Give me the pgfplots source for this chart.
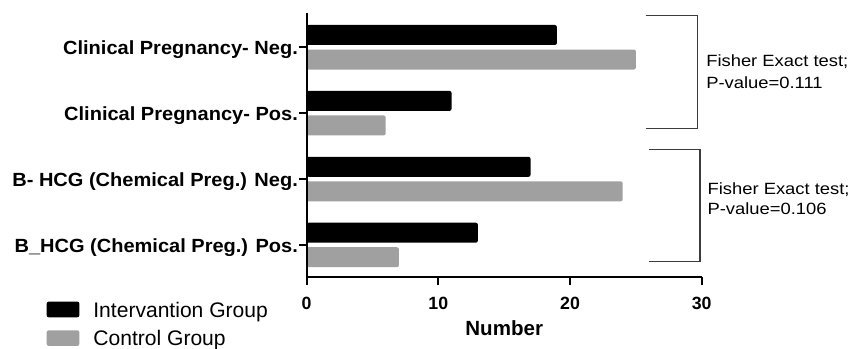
\documentclass[border=0pt]{standalone}
\usepackage{fontspec}
\setmainfont{Liberation Sans}
\newfontfamily\fisherfont{Liberation Sans}[FakeStretch=1.13]
\newfontfamily\labfont{Liberation Sans}[FakeStretch=1.05]
\usepackage{pgfplots}
\pgfplotsset{compat=1.18}
\definecolor{ctrl}{RGB}{160,160,160}
\definecolor{brk}{RGB}{60,60,60}
\begin{document}
\begin{tikzpicture}
\useasboundingbox (0,0) rectangle (646.5pt,261.75pt);
\begin{axis}[
  at={(230pt,53.8pt)}, anchor=south west,
  scale only axis, width=296.3pt, height=198pt,
  xbar, bar width=15pt,
  legend image code/.code={\fill[#1, rounded corners=1.5pt] (0pt,-5.85pt) rectangle (24.5pt,5.85pt);},
  xmin=0, xmax=30, ymin=-0.49, ymax=3.516,
  axis x line=bottom, axis y line=left,
  axis line style={-, line width=1.6pt, black},
  axis on top,
  xtick={0,10,20,30}, ytick={0,1,2,3},
  yticklabels={B\_HCG (Chemical Preg.) Pos., B- HCG (Chemical Preg.) Neg., Clinical Pregnancy- Pos., Clinical Pregnancy- Neg.},
  tick align=outside, major tick length=5.5pt,
  tick style={line width=1.6pt, black},
  /pgf/number format/assume math mode=true,
  xticklabel style={font=\bfseries\fontsize{13.3}{15}\selectfont, anchor=base, inner sep=0pt, yshift=-18.75pt},
  yticklabel style={font=\labfont\bfseries\fontsize{14.3}{16}\selectfont, anchor=base east, inner sep=0pt, xshift=-0.9pt, yshift=-5.8pt},
  xlabel={Number},
  xlabel style={font=\bfseries\fontsize{15.4}{17}\selectfont, at={(axis description cs:0.5,0)}, anchor=base, inner sep=0pt, yshift=-43.3pt},
  legend style={at={(axis description cs:-0.658,-0.0924)}, anchor=north west, draw=none, fill=none, inner sep=0pt, outer sep=0pt, row sep=9.8pt, column sep=10.5pt, font=\fontsize{15.8}{17}\selectfont, nodes={inner sep=0pt, text height=11.7pt, text depth=0pt}},
  legend cell align=left,
]
\addplot[fill=black, draw=none, bar shift=9.2pt, rounded corners=1.5pt]
  coordinates {(19,3) (11,2) (17,1) (13,0)};
\addplot[fill=ctrl, draw=none, bar shift=-9.2pt, rounded corners=1.5pt]
  coordinates {(25,3) (6,2) (24,1) (7,0)};
\legend{Intervantion Group, Control Group}
\end{axis}
\draw[brk, line width=0.8pt] (484.3pt,250pt) -- (523.3pt,250pt) -- (523.3pt,165.5pt) -- (484.3pt,165.5pt);
\draw[brk, line width=0.8pt] (487pt,149.8pt) -- (525pt,149.8pt) -- (525pt,65.5pt) -- (487pt,65.5pt);
\node[anchor=base west, inner sep=0pt, font=\fisherfont\fontsize{12.2}{14}\selectfont] at (529.5pt,211.7pt) {Fisher Exact test;};
\node[anchor=base west, inner sep=0pt, font=\fisherfont\fontsize{12.2}{14}\selectfont] at (529.5pt,195.5pt) {P-value=0.111};
\node[anchor=base west, inner sep=0pt, font=\fisherfont\fontsize{12.2}{14}\selectfont] at (530.5pt,115.5pt) {Fisher Exact test;};
\node[anchor=base west, inner sep=0pt, font=\fisherfont\fontsize{12.2}{14}\selectfont] at (530.5pt,100.5pt) {P-value=0.106};
\end{tikzpicture}
\end{document}
